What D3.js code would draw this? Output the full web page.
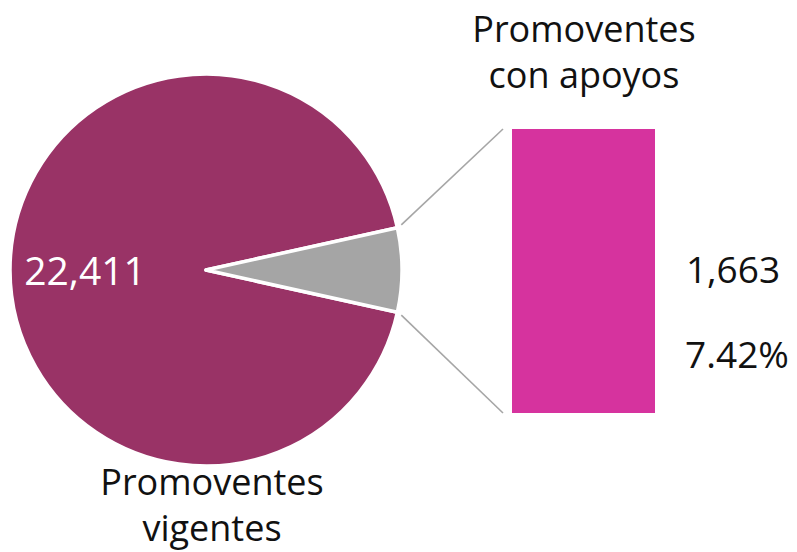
<!DOCTYPE html>
<html>
<head>
<style>
  body { margin: 0; background: #fff; }
  text { font-family: "Open Sans", sans-serif; }
</style>
</head>
<body>
<script src="https://cdn.jsdelivr.net/npm/d3@7/dist/d3.min.js"></script>
<script>
  // slices of the pie: main group and the group broken out into the bar
  var sliceNames = ["Promoventes vigentes", "Promoventes con apoyos"];
  var sliceValues = [22411, 1663];
  var sliceLabels = ["22,411", "1,663"];
  var barShare = "7.42%";

  var width = 797;
  var height = 552;

  var svg = d3.select("body")
      .append("svg")
      .attr("width", width)
      .attr("height", height);

  var cx = 206, cy = 270, radius = 196;

  var otherAngle = 2 * Math.PI * sliceValues[1] / d3.sum(sliceValues);
  var start = Math.PI / 2 + otherAngle / 2;

  var pie = d3.pie()
      .sort(null)
      .startAngle(start)
      .endAngle(start + 2 * Math.PI);

  var arcs = pie(sliceValues);

  var arc = d3.arc().innerRadius(0).outerRadius(radius);
  var labelArc = d3.arc().innerRadius(121).outerRadius(121);

  var color = ["#993366", "#a5a5a5"];

  var g = svg.append("g")
      .attr("transform", "translate(" + cx + "," + cy + ")");

  g.selectAll("path")
      .data(arcs)
      .enter()
        .append("path")
        .attr("d", arc)
        .attr("fill", function (d, i) { return color[i]; })
        .attr("stroke", "#fff")
        .attr("stroke-width", 3.5)
        .attr("stroke-linejoin", "round");

  // value label on the big slice
  g.append("text")
      .attr("x", labelArc.centroid(arcs[0])[0])
      .attr("y", labelArc.centroid(arcs[0])[1] + 15)
      .attr("text-anchor", "middle")
      .attr("fill", "#fff")
      .style("font-size", "39px")
      .text(sliceLabels[0]);

  // the bar
  var x = d3.scaleBand().domain([sliceNames[1]]).range([512, 655]).padding(0);
  var y = d3.scaleLinear().domain([0, sliceValues[1]]).range([413, 129]);

  svg.append("rect")
      .attr("x", x(sliceNames[1]))
      .attr("y", y(sliceValues[1]))
      .attr("width", x.bandwidth())
      .attr("height", y(0) - y(sliceValues[1]))
      .attr("fill", "#d6339e");

  // connector lines from the grey slice to the bar
  function edgePoint(a) {
    var r = radius + 4;
    return [cx + r * Math.sin(a), cy - r * Math.cos(a)];
  }
  var pTop = edgePoint(arcs[1].startAngle);
  var pBot = edgePoint(arcs[1].endAngle);

  svg.append("line")
      .attr("x1", pTop[0]).attr("y1", pTop[1] - 2)
      .attr("x2", x(sliceNames[1]) - 9).attr("y2", y(sliceValues[1]))
      .attr("stroke", "#a6a6a6").attr("stroke-width", 1.6);
  svg.append("line")
      .attr("x1", pBot[0]).attr("y1", pBot[1] + 2)
      .attr("x2", x(sliceNames[1]) - 9).attr("y2", y(0))
      .attr("stroke", "#a6a6a6").attr("stroke-width", 1.6);

  // bar labels
  svg.append("text")
      .attr("x", 733).attr("y", 283)
      .attr("text-anchor", "middle")
      .attr("fill", "#111")
      .style("font-size", "37px")
      .text(sliceLabels[1]);
  svg.append("text")
      .attr("x", 737).attr("y", 368)
      .attr("text-anchor", "middle")
      .attr("fill", "#111")
      .style("font-size", "37px")
      .text(barShare);

  // category names
  function twoLines(xc, y0, lines) {
    var t = svg.append("text")
        .attr("text-anchor", "middle")
        .attr("fill", "#111")
        .style("font-size", "36px");
    lines.forEach(function (s, i) {
      t.append("tspan").attr("x", xc).attr("y", y0 + i * 46).text(s);
    });
  }
  twoLines(584, 42, ["Promoventes", "con apoyos"]);
  twoLines(212, 495, ["Promoventes", "vigentes"]);
</script>
</body>
</html>
